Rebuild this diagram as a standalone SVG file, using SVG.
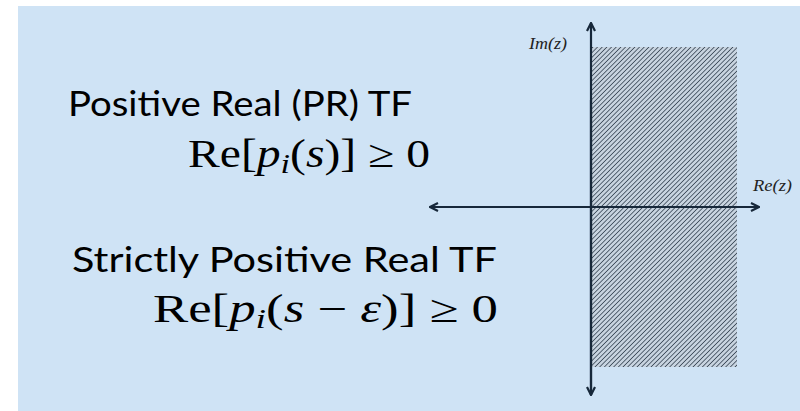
<svg xmlns="http://www.w3.org/2000/svg" width="800" height="411" viewBox="0 0 800 411">
  <style>
    .title { font-family: Lato, "Open Sans", sans-serif; font-size: 35px; fill: #000; }
    .math { font-family: "Liberation Serif", "DejaVu Serif", serif; font-size: 39px; fill: #000; }
    .mi { font-style: italic; }
    .lbl { font-family: "Liberation Serif", serif; font-style: italic; font-size: 16px; fill: #222; }
    .axis { stroke: #17283a; stroke-width: 2.2; fill: none; }
  </style>
  <defs>
    <pattern id="hatch" width="3.3" height="3.3" patternUnits="userSpaceOnUse" patternTransform="rotate(45)">
      <rect width="3.3" height="3.3" fill="#c8d4e0"/>
      <line x1="0" y1="0" x2="0" y2="3.3" stroke="#3a4858" stroke-width="1.6"/>
    </pattern>
    <marker id="arr" viewBox="0 0 10 10" refX="9" refY="5" markerWidth="10" markerHeight="10" markerUnits="userSpaceOnUse" orient="auto">
      <path d="M1,1 L9,5 L1,9" fill="none" stroke="#17283a" stroke-width="2.2"/>
    </marker>
  </defs>
  <rect x="0" y="0" width="800" height="411" fill="#ffffff"/>
  <rect x="18" y="6" width="782" height="405" fill="#cfe3f5"/>

  <g id="region">
    <rect x="592" y="47" width="145" height="320" fill="url(#hatch)"/>
  </g>

  <g id="axes">
    <line class="axis" x1="591" y1="395" x2="591" y2="23" marker-end="url(#arr)"/>
    <line class="axis" x1="591" y1="100" x2="591" y2="395" marker-end="url(#arr)"/>
    <line class="axis" x1="430" y1="207" x2="759" y2="207" marker-end="url(#arr)"/>
    <line class="axis" x1="759" y1="207" x2="430" y2="207" marker-end="url(#arr)"/>
  </g>

  <g id="labels">
    <text class="lbl" x="529" y="49" textLength="38" lengthAdjust="spacingAndGlyphs">Im(z)</text>
    <text class="lbl" x="753" y="191" textLength="39" lengthAdjust="spacingAndGlyphs">Re(z)</text>
  </g>

  <g id="pr">
    <text class="title" x="68" y="116" textLength="344" lengthAdjust="spacingAndGlyphs">Positive Real (PR) TF</text>
    <text class="math" x="188" y="167" textLength="242" lengthAdjust="spacingAndGlyphs">Re[<tspan class="mi">p</tspan><tspan class="mi" font-size="28" dy="6">i</tspan><tspan dy="-6">(</tspan><tspan class="mi">s</tspan>)] ≥ 0</text>
  </g>

  <g id="spr">
    <text class="title" x="72" y="272" textLength="425" lengthAdjust="spacingAndGlyphs">Strictly Positive Real TF</text>
    <text class="math" x="153" y="322" textLength="345" lengthAdjust="spacingAndGlyphs">Re[<tspan class="mi">p</tspan><tspan class="mi" font-size="28" dy="6">i</tspan><tspan dy="-6">(</tspan><tspan class="mi">s</tspan> − <tspan class="mi">ε</tspan>)] ≥ 0</text>
  </g>
</svg>
